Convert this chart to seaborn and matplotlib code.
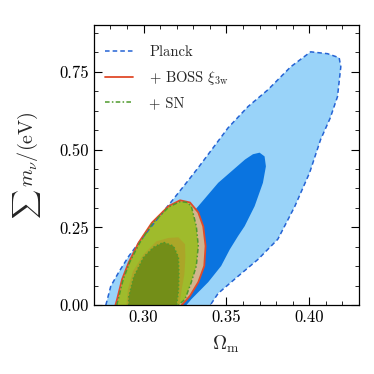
"""Neutrino mass vs Omega_m constraint contours."""

import matplotlib
matplotlib.use("Agg")
import matplotlib.pyplot as plt
import seaborn as sns
from matplotlib.ticker import AutoMinorLocator, MultipleLocator

# contour outlines (Omega_m, sum m_nu)
planck_outer_x = [0.2772, 0.2802, 0.2850, 0.2910, 0.3000, 0.3090, 0.3168, 0.3246,
                  0.3330, 0.3420, 0.3510, 0.3630, 0.3750, 0.3888, 0.4008, 0.4110,
                  0.4180, 0.4190, 0.4170, 0.4125, 0.4068, 0.4002, 0.3912, 0.3810,
                  0.3690, 0.3570, 0.3450, 0.3402]
planck_outer_y = [0.000, 0.061, 0.106, 0.157, 0.221, 0.282, 0.333, 0.385,
                  0.442, 0.506, 0.570, 0.638, 0.692, 0.766, 0.814, 0.808,
                  0.795, 0.766, 0.670, 0.600, 0.532, 0.426, 0.317, 0.212,
                  0.147, 0.093, 0.038, 0.000]

planck_inner_x = [0.3030, 0.3090, 0.3210, 0.3330, 0.3450, 0.3612, 0.3660, 0.3700,
                  0.3730, 0.3738, 0.3720, 0.3670, 0.3610, 0.3570, 0.3520, 0.3468,
                  0.3390, 0.3288, 0.3258]
planck_inner_y = [0.000, 0.099, 0.244, 0.318, 0.393, 0.468, 0.485, 0.490,
                  0.478, 0.446, 0.393, 0.318, 0.254, 0.222, 0.179, 0.126,
                  0.074, 0.019, 0.000]

boss_outer_x = [0.2830, 0.2840, 0.2870, 0.2910, 0.2970, 0.3050, 0.3150, 0.3220,
                0.3280, 0.3330, 0.3360, 0.3374, 0.3366, 0.3330, 0.3280, 0.3230]
boss_outer_y = [0.000, 0.019, 0.083, 0.137, 0.201, 0.265, 0.318, 0.337,
                0.330, 0.298, 0.253, 0.190, 0.126, 0.074, 0.030, 0.000]

boss_inner_x = [0.2896, 0.2906, 0.2936, 0.3000, 0.3078, 0.3150, 0.3210, 0.3250,
                0.3252, 0.3246, 0.3228, 0.3216]
boss_inner_y = [0.000, 0.051, 0.109, 0.163, 0.205, 0.216, 0.218, 0.196,
                0.154, 0.099, 0.045, 0.000]

sn_outer_x = [0.2838, 0.2847, 0.2877, 0.2916, 0.2976, 0.3054, 0.3153, 0.3222,
              0.3264, 0.3288, 0.3318, 0.3330, 0.3318, 0.3288, 0.3250, 0.3210]
sn_outer_y = [0.000, 0.019, 0.083, 0.138, 0.200, 0.263, 0.316, 0.333,
              0.330, 0.318, 0.254, 0.190, 0.126, 0.074, 0.019, 0.000]

sn_inner_x = [0.2910, 0.2910, 0.2940, 0.3000, 0.3060, 0.3120, 0.3180, 0.3210,
              0.3213, 0.3210, 0.3200, 0.3198]
sn_inner_y = [0.000, 0.026, 0.090, 0.154, 0.186, 0.202, 0.190, 0.154,
              0.099, 0.045, 0.003, 0.000]

sns.set_theme(style="ticks")
plt.rcParams.update({
    "font.family": "serif",
    "font.serif": ["cmr10"],
    "mathtext.fontset": "cm",
    "axes.formatter.use_mathtext": True,
    "axes.unicode_minus": False,
    "xtick.direction": "in",
    "ytick.direction": "in",
    "xtick.top": True,
    "ytick.right": True,
    "xtick.minor.visible": True,
    "ytick.minor.visible": True,
    "axes.edgecolor": "black",
    "axes.linewidth": 0.9,
})

fig = plt.figure(figsize=(3.74, 3.74), dpi=100)
ax = fig.add_axes([0.251, 0.184, 0.709, 0.749])

# fills
ax.fill(planck_outer_x, planck_outer_y, color="#99d3f9", lw=0)
ax.fill(planck_inner_x, planck_inner_y, color="#0a74e0", lw=0)
ax.fill(boss_outer_x, boss_outer_y, color="#d2b48e", lw=0)
ax.fill(sn_outer_x, sn_outer_y, color="#9fbb2c", lw=0)
ax.fill(boss_inner_x, boss_inner_y, color="#aba628", lw=0)
ax.fill(sn_inner_x, sn_inner_y, color="#738e18", lw=0)

# outlines
sns.lineplot(x=planck_outer_x, y=planck_outer_y, sort=False, estimator=None,
             color="#2563d4", lw=1.1, linestyle=(0, (3, 2)), label="Planck", ax=ax)
sns.lineplot(x=boss_outer_x, y=boss_outer_y, sort=False, estimator=None,
             color="#e04a2a", lw=1.3, linestyle="-", label=r"+ BOSS $\xi_{\rm 3w}$", ax=ax)
sns.lineplot(x=sn_outer_x, y=sn_outer_y, sort=False, estimator=None,
             color="#4e9a2c", lw=1.1, linestyle=(0, (3, 1.5, 1, 1.5)), label="+ SN", ax=ax)
ax.plot(sn_inner_x, sn_inner_y, color="#4e9a2c", lw=1.1, linestyle=(0, (1, 1.5)))

ax.set_xlim(0.27, 0.43)
ax.set_ylim(0.0, 0.9)
ax.xaxis.set_major_locator(MultipleLocator(0.05))
ax.yaxis.set_major_locator(MultipleLocator(0.25))
ax.xaxis.set_minor_locator(AutoMinorLocator(5))
ax.yaxis.set_minor_locator(AutoMinorLocator(4))
ax.tick_params(which="major", length=5.5, width=0.8, labelsize=12, colors="black")
ax.tick_params(which="minor", length=3, width=0.7)
ax.xaxis.set_major_formatter(plt.FormatStrFormatter("%.2f"))
ax.yaxis.set_major_formatter(plt.FormatStrFormatter("%.2f"))

ax.set_xlabel(r"$\Omega_{\rm m}$", fontsize=14, labelpad=6)
ax.set_ylabel(r"$\sum\, m_\nu/({\rm eV})$", fontsize=14.5, labelpad=12)

ax.legend(loc="upper left", bbox_to_anchor=(0.0, 0.966), frameon=False,
          fontsize=10.5, handlelength=1.9, handletextpad=1.15,
          labelspacing=0.65, borderaxespad=0.35)

fig.savefig("out.png", dpi=100)
plt.close(fig)
